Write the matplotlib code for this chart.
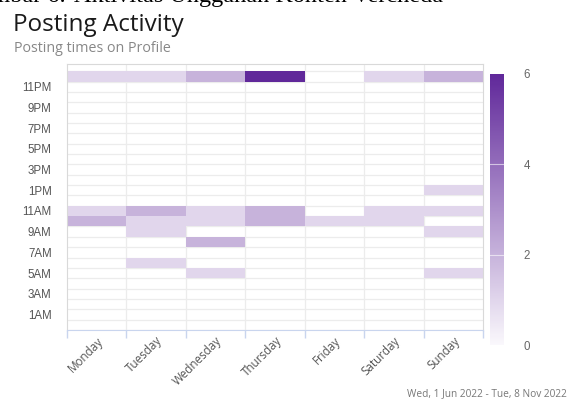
import numpy as np
import matplotlib
matplotlib.use("Agg")
import matplotlib.pyplot as plt
from matplotlib.colors import LinearSegmentedColormap

# posting counts per day: {hour row: posts}, row 24 is the extra midnight row on top
days = ['Monday', 'Tuesday', 'Wednesday', 'Thursday', 'Friday', 'Saturday', 'Sunday']
monday = {24: 1, 11: 1, 10: 2}
tuesday = {24: 1, 11: 2, 10: 1, 9: 1, 6: 1}
wednesday = {24: 2, 11: 1, 10: 1, 8: 2, 5: 1}
thursday = {24: 6, 11: 2, 10: 2}
friday = {10: 1}
saturday = {24: 1, 11: 1, 10: 1}
sunday = {24: 2, 13: 1, 11: 1, 9: 1, 5: 1}
hour_ticks = [1, 3, 5, 7, 9, 11, 13, 15, 17, 19, 21, 23]
hour_labels = ['1AM', '3AM', '5AM', '7AM', '9AM', '11AM',
               '1PM', '3PM', '5PM', '7PM', '9PM', '11PM']
cbar_ticks = [0, 2, 4, 6]

per_day = [monday, tuesday, wednesday, thursday, friday, saturday, sunday]
n_rows = 25
grid = np.zeros((n_rows, len(days)))
for j, d in enumerate(per_day):
    for h, v in d.items():
        grid[h, j] = v

cmap = LinearSegmentedColormap.from_list('purp', ['#faf8fc', '#60289a'])

fig = plt.figure(figsize=(5.79, 4.07), dpi=100)
ax = fig.add_axes([67/579, 1-330/407, 416/579, 266/407])

x_edges = np.arange(len(days) + 1) - 0.5
y_edges = np.arange(n_rows + 1) - 0.5
ax.pcolormesh(x_edges, y_edges, np.ma.masked_equal(grid, 0), cmap=cmap,
              vmin=0, vmax=6, edgecolors='none')
for y in y_edges:
    ax.axhline(y, color='#ececec', lw=0.9, zorder=0.5)
for x in x_edges[1:-1]:
    ax.axvline(x, color='#ececec', lw=0.9, zorder=0.5)
ax.set_xlim(-0.5, 6.5)
ax.set_ylim(-0.5, 25.2)

ax.set_yticks(hour_ticks)
ax.set_yticklabels(hour_labels, family='Liberation Sans', fontsize=8.3, color='#555555')
ax.tick_params(axis='y', length=0, pad=11)
ax.set_xticks(range(len(days)))
ax.set_xticklabels(days, rotation=45, ha='right', rotation_mode='anchor',
                   family='Open Sans', fontsize=8.4, color='#555555')
ax.tick_params(axis='x', length=0, pad=3)
ax.set_xticks(x_edges, minor=True)
ax.tick_params(axis='x', which='minor', length=6, color='#c9d5ee', width=1)

for s in ['left', 'right', 'top']:
    ax.spines[s].set_color('#d9d9d9')
ax.spines['bottom'].set_color('#c9d5ee')

cax = fig.add_axes([490/579, 1-345/407, 14/579, 271/407])
sm = plt.cm.ScalarMappable(cmap=cmap, norm=plt.Normalize(0, 6))
cb = fig.colorbar(sm, cax=cax, ticks=cbar_ticks)
cb.outline.set_visible(False)
cb.ax.tick_params(length=0, pad=14, labelsize=8.3, labelcolor='#666666')
for lab in cb.ax.get_yticklabels():
    lab.set_family('Liberation Sans')
for t in [2, 4]:
    cb.ax.axhline(t, color='white', lw=0.8, alpha=0.6)

fig.text(66/579, 1-2/407, 'Gambar 6.', family='Liberation Serif', fontsize=17.5,
         ha='right', va='baseline', color='black')
fig.text(74/579, 1-2/407, 'Aktivitas Unggahan Konten Vercheda', family='Liberation Serif',
         fontsize=17.5, ha='left', va='baseline', color='black')
fig.text(13/579, 1-31/407, 'Posting Activity', family='Open Sans', fontsize=17.5,
         weight='medium', ha='left', va='baseline', color='#1a1a1a')
fig.text(14/579, 1-52/407, 'Posting times on Profile', family='Open Sans', fontsize=10.3,
         ha='left', va='baseline', color='#888888')
fig.text(567/579, 1-396/407, 'Wed, 1 Jun 2022 - Tue, 8 Nov 2022', family='Open Sans',
         fontsize=7.3, ha='right', va='baseline', color='#777777')

fig.savefig('out.png', dpi=100)
